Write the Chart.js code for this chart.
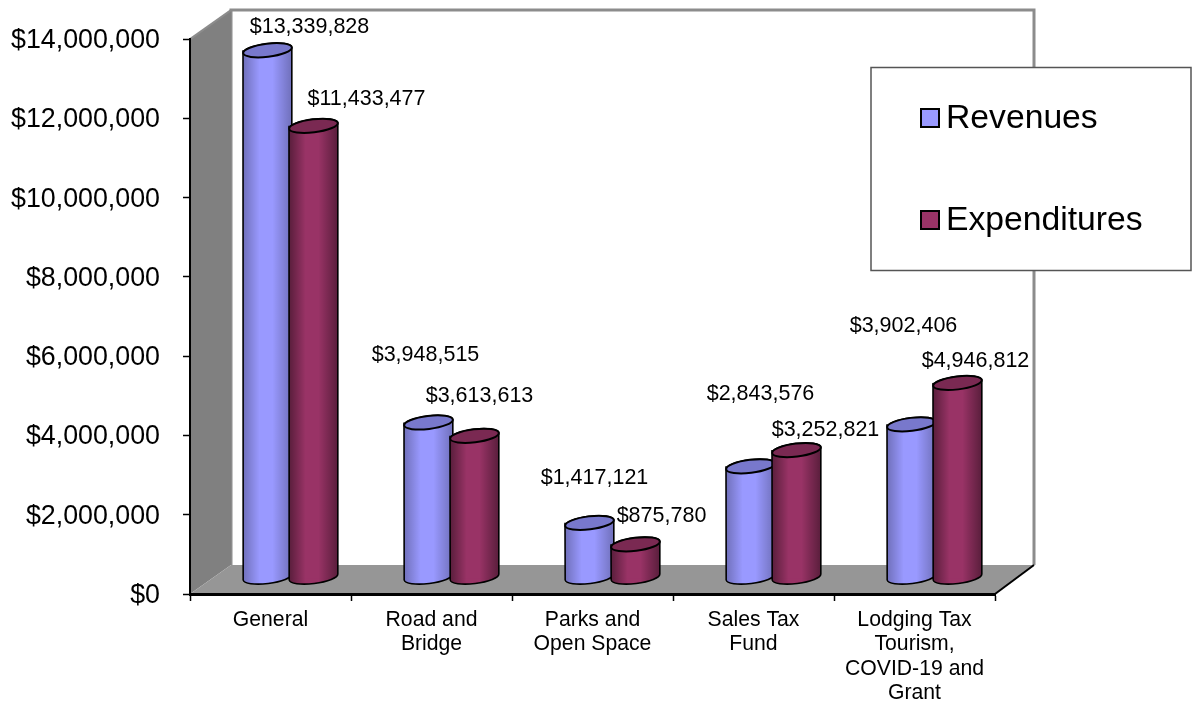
<!DOCTYPE html>
<html>
<head>
<meta charset="utf-8">
<title>Revenues and Expenditures</title>
<script src="https://cdn.jsdelivr.net/npm/chart.js@4"></script>
<style>html,body{margin:0;padding:0;background:#fff}canvas{display:block}</style>
</head>
<body>
<canvas id="c" width="1198" height="702"></canvas>
<script>
const categories = ["General", ["Road and", "Bridge"], ["Parks and", "Open Space"], ["Sales Tax", "Fund"], ["Lodging Tax", "Tourism,", "COVID-19 and", "Grant"]];
const revenues = [13339828, 3948515, 1417121, 2843576, 3902406];
const expenditures = [11433477, 3613613, 875780, 3252821, 4946812];
const seriesNames = ["Revenues", "Expenditures"];
const seriesColors = ["#9999FF", "#993366"];
const capColors = ["#7878CC", "#7A2952"];
const yTicksMax = 14000000;
const yTickStep = 2000000;

const FONT = '"Liberation Sans", Arial, sans-serif';
const DEPTH = {x: 41, y: -29};
const SHIFT = {x: 20, y: -15};
const SPREAD = 23;
const BASE_LIFT = 1.5;
const RX = 24.5, RY = 6.5, TILT = -7 * Math.PI / 180;
// label placement relative to each cylinder's top
const labelNudge = [
  [[42, -23], [-3, -67], [5, -45], [10, -72], [-8, -98]],
  [[53, -27], [5, -40], [26, -28], [29, -20], [18, -22]]
];

function dsShift(i) { return SHIFT.x + (i === 0 ? -SPREAD : SPREAD); }
function cylPath(ctx, el) {
  ctx.moveTo(el.x - RX, el.y);
  ctx.ellipse(el.x, el.y, RX, RY, TILT, Math.PI, 2 * Math.PI, false);
  ctx.ellipse(el.x, el.base - BASE_LIFT, RX, RY, TILT, 0, Math.PI, false);
  ctx.closePath();
}

const room = {
  id: 'room',
  beforeDraw(chart) {
    const {ctx, chartArea: a} = chart;
    const bx = a.left + DEPTH.x, by = a.top + DEPTH.y;
    const fy = a.bottom + DEPTH.y, rx = a.right + DEPTH.x - 2;
    ctx.save();
    ctx.fillStyle = '#fff';
    ctx.fillRect(bx, by, rx - bx, fy - by);
    ctx.strokeStyle = '#8c8c8c'; ctx.lineWidth = 3;
    ctx.beginPath(); ctx.moveTo(bx, fy); ctx.lineTo(bx, by); ctx.lineTo(rx, by); ctx.lineTo(rx, fy); ctx.stroke();
    ctx.fillStyle = '#808080';
    ctx.beginPath(); ctx.moveTo(a.left, a.top); ctx.lineTo(bx, by); ctx.lineTo(bx, fy); ctx.lineTo(a.left, a.bottom); ctx.closePath(); ctx.fill();
    ctx.strokeStyle = '#8c8c8c'; ctx.lineWidth = 2;
    ctx.beginPath(); ctx.moveTo(a.left, a.top); ctx.lineTo(bx, by); ctx.stroke();
    ctx.fillStyle = '#969696';
    ctx.beginPath(); ctx.moveTo(a.left, a.bottom); ctx.lineTo(bx, fy); ctx.lineTo(rx, fy); ctx.lineTo(a.right, a.bottom); ctx.closePath(); ctx.fill();
    ctx.strokeStyle = '#000'; ctx.lineWidth = 2;
    ctx.beginPath(); ctx.moveTo(a.right, a.bottom); ctx.lineTo(rx, fy); ctx.stroke();
    ctx.restore();
  }
};

const cylinders = {
  id: 'cylinders',
  beforeDatasetDraw(chart, args) {
    const {ctx} = chart, i = args.index;
    ctx.save();
    ctx.translate(dsShift(i), SHIFT.y);
    ctx.save();
    ctx.beginPath();
    args.meta.data.forEach(el => cylPath(ctx, el));
    ctx.clip();
    ctx.fillStyle = seriesColors[i];
    ctx.fill();
  },
  afterDatasetDraw(chart, args) {
    const {ctx} = chart, i = args.index;
    ctx.restore();
    args.meta.data.forEach(el => {
      const g = ctx.createLinearGradient(el.x - RX, 0, el.x + RX, 0);
      const e = i === 0 ? 0.27 : 0.42;
      g.addColorStop(0, `rgba(0,0,0,${e})`);
      g.addColorStop(0.34, 'rgba(0,0,0,0)');
      g.addColorStop(0.6, 'rgba(0,0,0,0)');
      g.addColorStop(1, `rgba(0,0,0,${e})`);
      ctx.beginPath(); cylPath(ctx, el);
      ctx.fillStyle = g; ctx.fill();
      ctx.strokeStyle = '#000'; ctx.lineWidth = 1.6; ctx.stroke();
      ctx.beginPath();
      ctx.ellipse(el.x, el.y, RX, RY, TILT, 0, 2 * Math.PI);
      ctx.fillStyle = capColors[i]; ctx.fill();
      ctx.lineWidth = 2; ctx.stroke();
    });
    ctx.restore();
  }
};

const overlay = {
  id: 'overlay',
  afterDraw(chart) {
    const {ctx} = chart;
    ctx.save();
    ctx.fillStyle = '#000';
    ctx.font = '21.5px ' + FONT;
    ctx.textAlign = 'center'; ctx.textBaseline = 'middle';
    chart.data.datasets.forEach((ds, i) => {
      chart.getDatasetMeta(i).data.forEach((el, j) => {
        const text = '$' + ds.data[j].toLocaleString('en-US');
        ctx.fillText(text, el.x + dsShift(i) + labelNudge[i][j][0], el.y + SHIFT.y + labelNudge[i][j][1]);
      });
    });
    // legend
    ctx.fillStyle = '#fff'; ctx.strokeStyle = '#555'; ctx.lineWidth = 1.5;
    ctx.fillRect(871, 67.5, 320, 203); ctx.strokeRect(871, 67.5, 320, 203);
    ctx.textAlign = 'left';
    ctx.font = '33.7px ' + FONT;
    [118, 220].forEach((cy, i) => {
      ctx.fillStyle = seriesColors[i]; ctx.strokeStyle = '#000'; ctx.lineWidth = 2;
      ctx.beginPath(); ctx.rect(921, cy - 9, 18, 18); ctx.fill(); ctx.stroke();
      ctx.fillStyle = '#000';
      ctx.fillText(seriesNames[i], 946, cy + 1);
    });
    ctx.restore();
  }
};

new Chart(document.getElementById('c'), {
  type: 'bar',
  data: {
    labels: categories,
    datasets: [
      {label: seriesNames[0], data: revenues, backgroundColor: seriesColors[0], order: 1, clip: false},
      {label: seriesNames[1], data: expenditures, backgroundColor: seriesColors[1], order: 0, clip: false}
    ]
  },
  plugins: [room, cylinders, overlay],
  options: {
    responsive: false,
    animation: false,
    layout: {padding: {left: 0, right: 203, top: 37, bottom: 0}},
    datasets: {bar: {grouped: false, categoryPercentage: 49 / 161, barPercentage: 1}},
    plugins: {legend: {display: false}, tooltip: {enabled: false}, title: {display: false}},
    scales: {
      y: {
        min: 0, max: yTicksMax,
        afterFit(s) { s.width = 190; },
        ticks: {
          stepSize: yTickStep, padding: 23, color: '#000', labelOffset: 1.5,
          font: {family: FONT, size: 26.8},
          callback: v => '$' + Number(v).toLocaleString('en-US')
        },
        grid: {drawOnChartArea: false, drawTicks: true, tickLength: 7, tickColor: '#000', tickWidth: 1.5},
        border: {color: '#000', width: 2}
      },
      x: {
        afterFit(s) { s.height = 108; },
        ticks: {
          padding: 7, color: '#000', maxRotation: 0, autoSkip: false,
          font: {family: FONT, size: 21.2, lineHeight: 1.15}
        },
        grid: {drawOnChartArea: false, drawTicks: true, tickLength: 7, tickColor: '#000', tickWidth: 1.5},
        border: {color: '#000', width: 3}
      }
    }
  }
});
</script>
</body>
</html>
